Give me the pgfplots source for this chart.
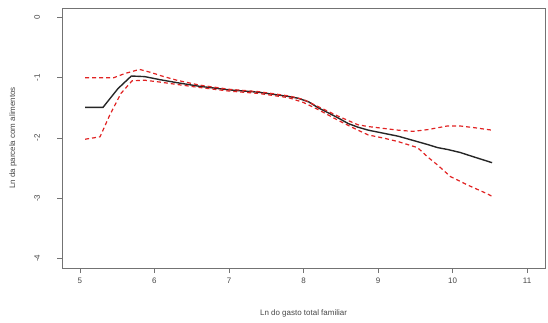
\documentclass[border=0pt]{standalone}
\usepackage{pgfplots}
\pgfplotsset{compat=1.18}
\usepackage{fontspec}
\setmainfont{Liberation Sans}
\definecolor{rred}{RGB}{225,35,35}
\definecolor{txt}{RGB}{70,70,70}
\begin{document}
\begin{tikzpicture}
\begin{axis}[
  scale only axis,
  width=483bp, height=260bp,
  xmin=4.76, xmax=11.24, ymin=-4.16, ymax=0.16,
  xtick={5,6,7,8,9,10,11},
  ytick={-4,-3,-2,-1,0},
  axis line style={draw=black!55, line width=0.8pt},
  tick style={draw=black!55, line width=0.8pt},
  tick align=outside,
  major tick length=5bp,
  xtick pos=bottom, ytick pos=left,
  ticklabel style={font=\fontsize{8}{9}\selectfont, text=txt},
  /pgf/number format/assume math mode=true,
  yticklabel={\rotatebox{90}{\pgfmathprintnumber{\tick}}},
  yticklabel style={anchor=center, xshift=-20bp},
  xticklabel style={yshift=-1bp},
  xlabel={Ln do gasto total familiar},
  ylabel={Ln da parcela com alimentos},
  label style={font=\fontsize{8}{9}\selectfont, text=txt},
  xlabel style={yshift=-20bp},
  ylabel style={at={(rel axis cs:-0.1014,0.5)}, anchor=center, rotate=0},
  clip=false,
]
\addplot[black!85, line width=1.4pt] coordinates {
(5.07,-1.49) (5.31,-1.49) (5.51,-1.18) (5.69,-0.97) (5.87,-0.98) (6.07,-1.03)
(6.3,-1.08) (6.6,-1.14) (7.0,-1.20) (7.4,-1.24) (7.8,-1.31) (7.93,-1.34)
(8.07,-1.40) (8.2,-1.50) (8.33,-1.58) (8.47,-1.67) (8.6,-1.76) (8.73,-1.82)
(8.87,-1.87) (9.07,-1.92) (9.27,-1.97) (9.47,-2.04) (9.67,-2.11) (9.8,-2.16)
(9.93,-2.19) (10.1,-2.24) (10.3,-2.32) (10.53,-2.41)
};
\addplot[rred, line width=1.2pt, dash pattern=on 4bp off 3bp] coordinates {
(5.07,-1.00) (5.45,-1.00) (5.6,-0.93) (5.8,-0.86) (5.95,-0.91) (6.1,-0.97)
(6.3,-1.04) (6.6,-1.12) (7.0,-1.19) (7.4,-1.23) (7.8,-1.30) (8.0,-1.36)
(8.2,-1.48) (8.47,-1.64) (8.73,-1.78) (8.87,-1.81) (9.07,-1.84) (9.27,-1.87)
(9.47,-1.89) (9.67,-1.86) (9.93,-1.80) (10.1,-1.80) (10.3,-1.83) (10.53,-1.87)
};
\addplot[rred, line width=1.2pt, dash pattern=on 4bp off 3bp] coordinates {
(5.07,-2.02) (5.27,-1.98) (5.4,-1.62) (5.55,-1.26) (5.7,-1.05) (5.87,-1.04)
(6.07,-1.07) (6.3,-1.11) (6.6,-1.16) (7.0,-1.22) (7.4,-1.26) (7.8,-1.33)
(8.0,-1.41) (8.2,-1.53) (8.47,-1.71) (8.73,-1.87) (8.87,-1.95) (9.07,-2.00)
(9.27,-2.06) (9.53,-2.16) (9.67,-2.32) (9.8,-2.45) (9.97,-2.64) (10.2,-2.78)
(10.47,-2.93) (10.53,-2.97)
};
\path[use as bounding box] (rel axis cs:-0.1284,-0.2115) rectangle (rel axis cs:1.0062,1.0308);
\end{axis}
\end{tikzpicture}
\end{document}
